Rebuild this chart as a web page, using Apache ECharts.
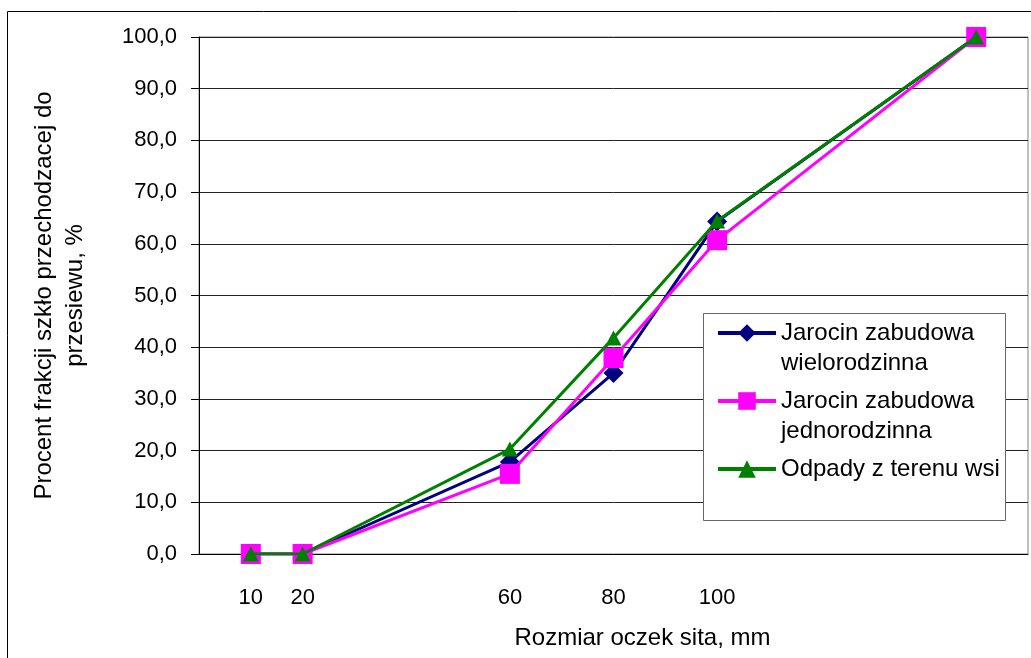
<!DOCTYPE html>
<html>
<head>
<meta charset="utf-8">
<script src="https://cdn.jsdelivr.net/npm/echarts@6/dist/echarts.min.js"></script>
<style>
  html, body { margin: 0; padding: 0; background: #fff; }
  #chart { width: 1031px; height: 658px; }
</style>
</head>
<body>
<div id="chart"></div>
<script>
// Sieve mesh sizes (mm) and passing fractions (%)
const meshSizes = [10, 20, 60, 80, 100, 150];
const wielorodzinna = [0, 0, 17.8, 35.0, 64.3, 100];
const jednorodzinna = [0, 0, 15.5, 37.9, 60.7, 100];
const wies = [0, 0, 20.3, 41.8, 64.4, 100];
const xTickLabels = [10, 20, 60, 80, 100];

const seriesNames = [
  'Jarocin zabudowa wielorodzinna',
  'Jarocin zabudowa jednorodzinna',
  'Odpady z terenu wsi'
];
// Legend text broken onto lines; every entry gets two lines so the
// marker sits beside the first one
const legendLines = {
  'Jarocin zabudowa wielorodzinna': ['Jarocin zabudowa', 'wielorodzinna'],
  'Jarocin zabudowa jednorodzinna': ['Jarocin zabudowa', 'jednorodzinna'],
  'Odpady z terenu wsi': ['Odpady z terenu wsi', ' ']
};

const font = "'Liberation Sans', Arial, sans-serif";
const pairs = ys => meshSizes.map((x, i) => [x, ys[i]]);

const chart = echarts.init(document.getElementById('chart'), null, { renderer: 'canvas' });
chart.setOption({
  animation: false,
  backgroundColor: '#fff',
  textStyle: { fontFamily: font, color: '#000' },
  grid: {
    left: 199, top: 37, right: 2, bottom: 104,
    show: true, borderColor: '#808080', borderWidth: 1, backgroundColor: 'transparent'
  },
  xAxis: {
    type: 'value', min: 0, max: 160, interval: 10,
    name: 'Rozmiar oczek sita, mm',
    nameLocation: 'middle', nameGap: 72,
    nameTextStyle: { fontSize: 24, fontFamily: font, color: '#000', padding: [0, 0, 0, 58] },
    axisLine: { show: true, lineStyle: { color: '#000', width: 1 } },
    axisTick: { show: false },
    splitLine: { show: false },
    axisLabel: {
      fontSize: 22, fontFamily: font, color: '#000', margin: 33,
      showMinLabel: true, showMaxLabel: true,
      formatter: v => (xTickLabels.indexOf(v) >= 0 ? String(v) : '')
    }
  },
  yAxis: {
    type: 'value', min: 0, max: 100, interval: 10,
    name: 'Procent frakcji szkło przechodzacej do\nprzesiewu, %',
    nameLocation: 'middle', nameGap: 108, nameRotate: 90,
    nameTextStyle: { fontSize: 24, lineHeight: 31, fontFamily: font, color: '#000' },
    axisLine: { show: true, lineStyle: { color: '#000', width: 1 } },
    axisTick: { show: true, inside: false, length: 8, lineStyle: { color: '#000' } },
    splitLine: { show: true, lineStyle: { color: '#222', width: 1 } },
    axisLabel: {
      fontSize: 22, fontFamily: font, color: '#000', margin: 22,
      formatter: v => v.toFixed(1).replace('.', ',')
    }
  },
  legend: {
    orient: 'vertical',
    left: 716, top: 288,
    padding: 0,
    itemGap: -22,
    itemWidth: 58, itemHeight: 22,
    data: seriesNames,
    lineStyle: { width: 4 },
    formatter: name => legendLines[name].map(s => '{t|' + s + '}').join('\n'),
    textStyle: {
      fontSize: 24, lineHeight: 30, fontFamily: font, color: '#000',
      padding: [30, 0, 0, 0],
      rich: { t: { fontSize: 24, lineHeight: 30, fontFamily: font, color: '#000' } }
    }
  },
  graphic: [
    {
      type: 'rect', z: 3,
      shape: { x: 703.5, y: 313.5, width: 302, height: 207 },
      style: { fill: '#fff', stroke: '#666', lineWidth: 1 }
    },
    {
      type: 'rect', z: 3,
      shape: { x: 7.5, y: 11.5, width: 1100, height: 700 },
      style: { fill: 'none', stroke: '#000', lineWidth: 1 }
    }
  ],
  series: [
    {
      name: seriesNames[0], type: 'line', data: pairs(wielorodzinna),
      symbol: 'diamond', symbolSize: 20, z: 2,
      lineStyle: { color: '#000080', width: 3 },
      itemStyle: { color: '#000080' }
    },
    {
      name: seriesNames[1], type: 'line', data: pairs(jednorodzinna),
      symbol: 'rect', symbolSize: 20, z: 3,
      lineStyle: { color: '#FF00FF', width: 3 },
      itemStyle: { color: '#FF00FF' }
    },
    {
      name: seriesNames[2], type: 'line', data: pairs(wies),
      symbol: 'triangle', symbolSize: [16, 15], z: 4,
      lineStyle: { color: '#008000', width: 3 },
      itemStyle: { color: '#008000' }
    }
  ]
});
</script>
</body>
</html>
